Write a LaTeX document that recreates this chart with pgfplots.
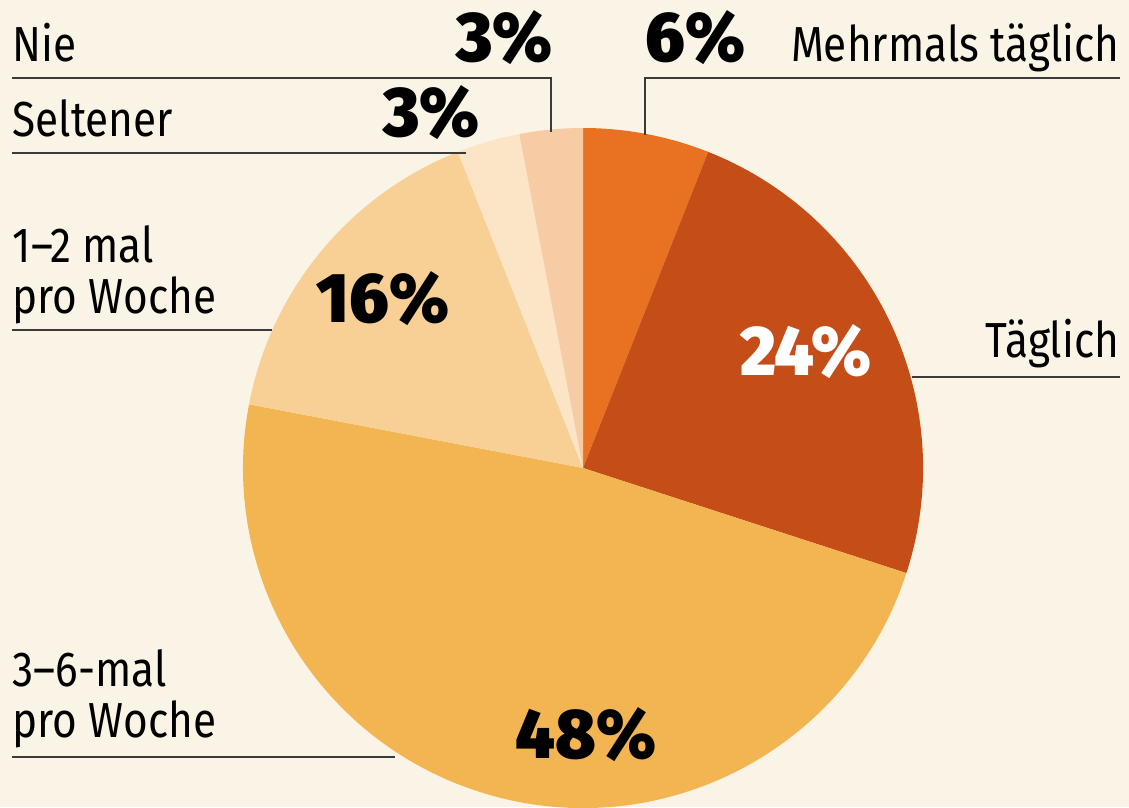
\documentclass[border=0pt]{standalone}
\usepackage{pgfplots}
\usepackage{pgfplotstable}
\pgfplotsset{compat=1.18}
\usepackage{fontspec}
\setmainfont{Fira Sans}[FakeStretch=0.86]
\newfontfamily\pct{Fira Sans Black}[FakeStretch=0.97]
\definecolor{bg}{HTML}{F9F4E5}
\definecolor{c0}{HTML}{E87222}
\definecolor{c1}{HTML}{C54D17}
\definecolor{c2}{HTML}{F2B552}
\definecolor{c3}{HTML}{F8D095}
\definecolor{c4}{HTML}{FCE5C6}
\definecolor{c5}{HTML}{F7CBA3}
\definecolor{ln}{HTML}{3A3A38}
\pgfplotstableread{
label value
Mehrmals 6
Taeglich 24
Drei 48
Eins 16
Seltener 3
Nie 3
}\piedata
\begin{document}
\begin{tikzpicture}
\begin{axis}[
  x=0.1mm, y=0.1mm,
  xmin=0, xmax=1129, ymin=0, ymax=807,
  axis line style={draw=none}, ticks=none,
  axis background/.style={fill=bg},
  clip=true,
]
\pgfplotstablegetrowsof{\piedata}
\pgfmathtruncatemacro\N{\pgfplotsretval-1}
\def\cum{0}
\pgfplotsforeachungrouped \i in {0,...,\N}{%
  \pgfplotstablegetelem{\i}{value}\of\piedata
  \pgfmathsetmacro\a{90-3.6*\cum}%
  \pgfmathsetmacro\b{90-3.6*(\cum+\pgfplotsretval)}%
  \pgfmathsetmacro\cum{\cum+\pgfplotsretval}%
  \edef\temp{\noexpand\fill[c\i] (axis cs:583,339) -- ++(\a:34mm) arc[start angle=\a, end angle=\b, radius=34mm] -- cycle;}%
  \temp
}
% leader lines
\draw[ln, line width=0.2mm] (axis cs:12,729) -- (axis cs:551,729) -- (axis cs:551,675);
\draw[ln, line width=0.2mm] (axis cs:12,654) -- (axis cs:466,654);
\draw[ln, line width=0.2mm] (axis cs:1120,729) -- (axis cs:645,729) -- (axis cs:645,672);
\draw[ln, line width=0.2mm] (axis cs:12,477) -- (axis cs:272,477);
\draw[ln, line width=0.2mm] (axis cs:912,430) -- (axis cs:1120,430);
\draw[ln, line width=0.2mm] (axis cs:12,50) -- (axis cs:395,50);
% category labels
\tikzset{lab/.style={font=\fontsize{14}{14.5}\selectfont, inner sep=0pt, text=black}}
\node[lab, anchor=base west] at (axis cs:12,745) {Nie};
\node[lab, anchor=base west] at (axis cs:12,670) {Seltener};
\node[lab, anchor=base east] at (axis cs:1120,745) {Mehrmals täglich};
\node[lab, anchor=base west] at (axis cs:12,545) {1–2 mal};
\node[lab, anchor=base west] at (axis cs:12,494) {pro Woche};
\node[lab, anchor=base east] at (axis cs:1120,450) {Täglich};
\node[lab, anchor=base west] at (axis cs:12,121) {3–6-mal};
\node[lab, anchor=base west] at (axis cs:12,70) {pro Woche};
% percentages
\tikzset{pc/.style={font=\pct\fontsize{20}{20}\selectfont, inner sep=0pt, text=black}}
\node[pc, anchor=base east] at (axis cs:553,745) {3\%};
\node[pc, anchor=base east] at (axis cs:480,670) {3\%};
\node[pc, anchor=base west] at (axis cs:645,745) {6\%};
\node[pc, anchor=base] at (axis cs:383,485) {16\%};
\node[pc, anchor=base, text=white] at (axis cs:806,432) {24\%};
\node[pc, anchor=base] at (axis cs:586,49) {48\%};
\end{axis}
\end{tikzpicture}
\end{document}
